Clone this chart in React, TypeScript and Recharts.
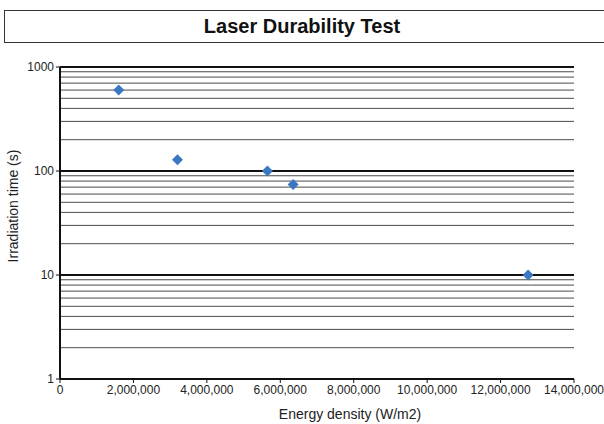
import React from 'react';
import { ScatterChart, Scatter, XAxis, YAxis, ReferenceLine } from 'recharts';

const energyDensity = [1600000, 3200000, 5650000, 6350000, 12750000];
const irradiationTime = [600, 128, 100, 74, 10];
const xTicks = [0, 2000000, 4000000, 6000000, 8000000, 10000000, 12000000, 14000000];
const yTicks = [1, 10, 100, 1000];
const majorGrid = [10, 100, 1000];
const minorGrid = [2, 3, 4, 5, 6, 7, 8, 9, 20, 30, 40, 50, 60, 70, 80, 90, 200, 300, 400, 500, 600, 700, 800, 900];

const data = energyDensity.map((x, i) => ({ x, y: irradiationTime[i] }));

const FONT = '"Liberation Sans", Arial, Helvetica, sans-serif';

const Diamond = (props: any) => {
  const { cx, cy } = props;
  const r = 5.5;
  return (
    <polygon
      points={`${cx},${cy - r} ${cx + r},${cy} ${cx},${cy + r} ${cx - r},${cy}`}
      fill="#3b78c2"
    />
  );
};

export default function App() {
  return (
    <div style={{ position: 'absolute', left: 0, top: 0, width: 604, height: 424, background: '#fff', fontFamily: FONT, overflow: 'hidden' }}>
      <div
        style={{
          position: 'absolute', left: 4, top: 10, width: 610, height: 33,
          border: '1px solid #333', boxSizing: 'border-box',
        }}
      />
      <div style={{ position: 'absolute', left: 0, top: 14, width: 604, textAlign: 'center', fontSize: 20, fontWeight: 'bold', color: '#111', lineHeight: '24px' }}>
        Laser Durability Test
      </div>
      <ScatterChart width={604} height={424} margin={{ top: 67, right: 30, bottom: 0, left: 0 }} style={{ fontFamily: FONT }}>
        {minorGrid.map((v) => (
          <ReferenceLine key={'m' + v} y={v} stroke="#4a4a4a" strokeWidth={1} />
        ))}
        {majorGrid.map((v) => (
          <ReferenceLine key={'M' + v} y={v} stroke="#111" strokeWidth={2} />
        ))}
        <XAxis
          type="number"
          dataKey="x"
          domain={[0, 14000000]}
          ticks={xTicks}
          height={45}
          tickSize={4}
          tickFormatter={(v: number) => v.toLocaleString('en-US')}
          tick={{ fontSize: 12, fill: '#222' }}
          axisLine={{ stroke: '#111', strokeWidth: 2 }}
          tickLine={{ stroke: '#111' }}
          interval={0}
        />
        <YAxis
          type="number"
          dataKey="y"
          scale="log"
          domain={[1, 1000]}
          ticks={yTicks}
          width={60}
          tickSize={4}
          tick={{ fontSize: 12, fill: '#222' }}
          axisLine={{ stroke: '#111', strokeWidth: 2 }}
          tickLine={{ stroke: '#111' }}
          allowDataOverflow
          interval={0}
        />
        <Scatter data={data} shape={<Diamond />} isAnimationActive={false} />
      </ScatterChart>
      <div
        style={{
          position: 'absolute', left: 350, top: 414, fontSize: 14, color: '#222', whiteSpace: 'nowrap',
          transform: 'translate(-50%, -50%)',
        }}
      >
        Energy density (W/m2)
      </div>
      <div
        style={{
          position: 'absolute', left: 13, top: 206, fontSize: 14, color: '#222', whiteSpace: 'nowrap',
          transform: 'translate(-50%, -50%) rotate(-90deg)',
        }}
      >
        Irradiation time (s)
      </div>
    </div>
  );
}
